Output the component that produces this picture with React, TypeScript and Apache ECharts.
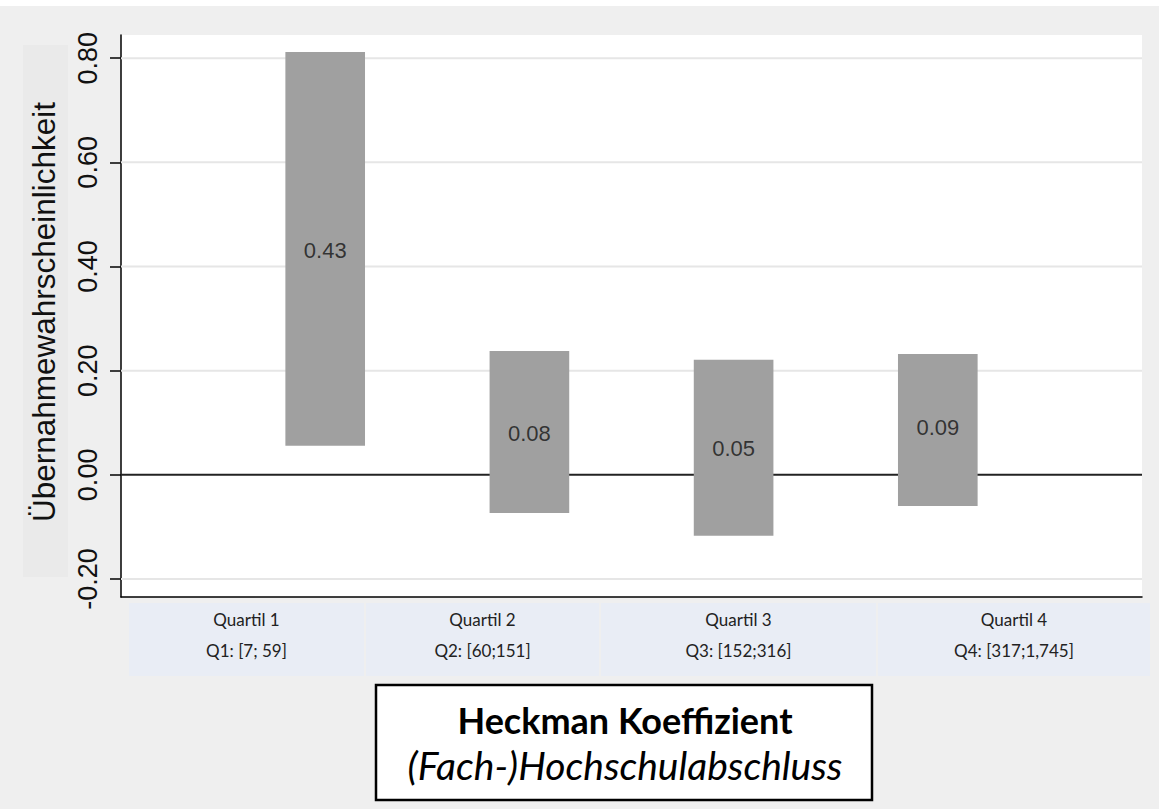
import React, { useEffect, useRef } from "react";
import * as echarts from "echarts";

// Heckman coefficients per quartile with their interval bounds
const quartilePositions = [1, 2, 3, 4];
const coefficients = [0.43, 0.08, 0.05, 0.09];
const lowerBounds = [0.056, -0.073, -0.117, -0.06];
const upperBounds = [0.812, 0.238, 0.221, 0.232];

const yTicks = [-0.2, 0, 0.2, 0.4, 0.6, 0.8];
const quartileNames = ["Quartil 1", "Quartil 2", "Quartil 3", "Quartil 4"];
const quartileRanges = ["Q1: [7; 59]", "Q2: [60;151]", "Q3: [152;316]", "Q4: [317;1,745]"];

const titleMain = "Heckman Koeffizient";
const titleSub = "(Fach-)Hochschulabschluss";
const yName = "Übernahmewahrscheinlichkeit";

// column cells under the plot: [left, right]
const cellSpans = [
  [129, 364],
  [366, 599],
  [601, 876],
  [878, 1150],
];

const X_MIN = 0;
const X_MAX = 5;
const BAR_WIDTH = 0.39;
const SANS = "'Liberation Sans', Arial, sans-serif";
const CAL = "Lato, 'Open Sans', sans-serif";

export default function App() {
  const ref = useRef<HTMLDivElement>(null);

  useEffect(() => {
    document.body.style.margin = "0";
    const chart = echarts.init(ref.current!, null, { renderer: "svg" });

    const rangeData = quartilePositions.map((x, i) => [x, lowerBounds[i], upperBounds[i]]);
    const coefData = quartilePositions.map((x, i) => [x, coefficients[i]]);

    const cellGraphics: any[] = [];
    cellSpans.forEach(([l, r], i) => {
      cellGraphics.push({
        type: "rect",
        shape: { x: l, y: 603, width: r - l, height: 73 },
        style: { fill: "#e9edf5" },
        z: 1,
      });
      cellGraphics.push({
        type: "text",
        x: (l + r) / 2,
        y: 619,
        style: {
          text: quartileNames[i],
          fill: "#222",
          font: `17px ${CAL}`,
          align: "center",
          verticalAlign: "middle",
        },
        z: 2,
      });
      cellGraphics.push({
        type: "text",
        x: (l + r) / 2,
        y: 650,
        style: {
          text: quartileRanges[i],
          fill: "#222",
          font: `17px ${CAL}`,
          align: "center",
          verticalAlign: "middle",
        },
        z: 2,
      });
    });

    chart.setOption({
      animation: false,
      backgroundColor: "#efefef",
      grid: {
        left: 121,
        top: 35,
        width: 1021,
        height: 562,
        show: true,
        backgroundColor: "#ffffff",
        borderWidth: 0,
      },
      xAxis: {
        type: "value",
        min: X_MIN,
        max: X_MAX,
        axisLine: { show: true, onZero: false, lineStyle: { color: "#000", width: 1.5 } },
        axisTick: { show: false },
        axisLabel: { show: false },
        splitLine: { show: false },
      },
      yAxis: {
        type: "value",
        min: -0.2345,
        max: 0.8445,
        name: yName,
        nameLocation: "middle",
        nameRotate: 90,
        nameGap: 61,
        nameTextStyle: { fontSize: 31.5, color: "#111", fontFamily: SANS, padding: [0, 0, 0, 8] },
        axisLine: { show: true, onZero: false, lineStyle: { color: "#000", width: 1.5 } },
        axisTick: {
          show: true,
          length: 11,
          customValues: yTicks,
          lineStyle: { color: "#000", width: 1.5 },
        },
        axisLabel: {
          customValues: yTicks,
          rotate: 90,
          margin: 20,
          fontSize: 27,
          color: "#111",
          fontFamily: SANS,
          formatter: (v: number) => v.toFixed(2),
        },
        splitLine: { show: false },
      },
      graphic: [
        { type: "rect", shape: { x: 0, y: 0, width: 1159, height: 6 }, style: { fill: "#fff" }, z: -10 },
        { type: "rect", shape: { x: 23, y: 45, width: 45, height: 532 }, style: { fill: "#eaeaea" }, z: -10 },
        ...cellGraphics,
        {
          type: "rect",
          shape: { x: 376, y: 685, width: 496, height: 115 },
          style: { fill: "#fff", stroke: "#000", lineWidth: 2.5 },
          z: 1,
        },
        {
          type: "text",
          x: 625,
          y: 720,
          style: {
            text: titleMain,
            fill: "#000",
            font: `bold 36px ${CAL}`,
            align: "center",
            verticalAlign: "middle",
          },
          z: 2,
        },
        {
          type: "text",
          x: 625,
          y: 765,
          style: {
            text: titleSub,
            fill: "#000",
            font: `italic 39px ${CAL}`,
            align: "center",
            verticalAlign: "middle",
          },
          z: 2,
        },
      ],
      series: [
        {
          // horizontal reference lines at each tick, zero line in black
          type: "custom",
          z: 1,
          silent: true,
          data: yTicks.map((v) => [v]),
          renderItem: (params: any, api: any) => {
            const v = api.value(0);
            const a = api.coord([X_MIN, v]);
            const b = api.coord([X_MAX, v]);
            const isZero = Math.abs(v) < 1e-9;
            return {
              type: "line",
              shape: { x1: a[0], y1: a[1], x2: b[0], y2: b[1] },
              style: { stroke: isZero ? "#222" : "#e6e6e6", lineWidth: 2 },
            };
          },
        },
        {
          type: "custom",
          z: 3,
          data: rangeData,
          renderItem: (params: any, api: any) => {
            const x = api.value(0);
            const lo = api.value(1);
            const hi = api.value(2);
            const top = api.coord([x, hi]);
            const bottom = api.coord([x, lo]);
            const w = api.size([BAR_WIDTH, 0])[0];
            return {
              type: "rect",
              shape: { x: top[0] - w / 2, y: top[1], width: w, height: bottom[1] - top[1] },
              style: { fill: "#a0a0a0" },
            };
          },
        },
        {
          type: "scatter",
          z: 4,
          symbolSize: 1,
          itemStyle: { color: "transparent" },
          data: coefData,
          label: {
            show: true,
            position: "inside",
            fontSize: 22,
            color: "#151515",
            fontFamily: SANS,
            formatter: (p: any) => p.value[1].toFixed(2),
          },
        },
      ],
    });

    return () => chart.dispose();
  }, []);

  return <div ref={ref} style={{ width: 1159, height: 809 }} />;
}
